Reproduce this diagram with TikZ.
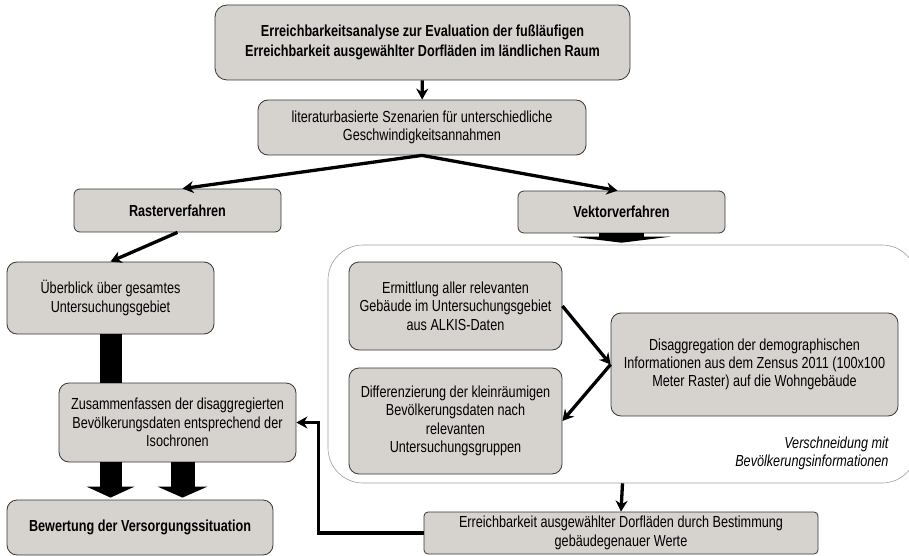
\documentclass[tikz,border=0pt]{standalone}
\usepackage{fontspec}
\setmainfont{Liberation Sans}[FakeStretch=0.79]
\usetikzlibrary{arrows.meta,positioning,calc}
\definecolor{boxgray}{RGB}{214,210,206}
\definecolor{rimgray}{RGB}{55,55,55}

\begin{document}
\begin{tikzpicture}[
  x=1pt, y=-1pt,
  >=Stealth,
  % one base box style, bold variant for the headings
  B/.style={rectangle, rounded corners=10pt, draw=rimgray, fill=boxgray,
            line width=0.8pt, align=center, inner sep=2pt,
            font=\fontsize{16}{18.3}\selectfont},
  H/.style={B, font=\bfseries\fontsize{16}{20}\selectfont},
  arr/.style={-{Stealth[length=11pt,width=12pt]}, line width=3.3pt},
  barr/.style={line width=#1},
]
\clip (0,0) rectangle (909,556);

%% ── Container (vector branch) ─────────────────────────────────────
\node[rectangle, rounded corners=35pt, draw=gray!75, line width=0.6pt,
      minimum width=589pt, minimum height=238pt] (cont) at (622.5,364) {};
\node[anchor=north east, align=right,
      font=\itshape\fontsize{16}{18.3}\selectfont] (versch) at (892,433)
      {Verschneidung mit\\Bevölkerungsinformationen};

%% ── Top ───────────────────────────────────────────────────────────
\node[H, minimum width=415pt, minimum height=75pt, rounded corners=12pt]
      (titel) at (422.5,42.5)
      {Erreichbarkeitsanalyse zur Evaluation der fußläufigen\\
       Erreichbarkeit ausgewählter Dorfläden im ländlichen Raum};
\node[B, minimum width=328pt, minimum height=55pt] (szen) at (422,127.5)
      {literaturbasierte Szenarien für unterschiedliche\\
       Geschwindigkeitsannahmen};

%% ── Two methods ───────────────────────────────────────────────────
\node[H, minimum width=207pt, minimum height=43pt, rounded corners=6pt]
      (raster) at (177.5,210.5) {Rasterverfahren};
\node[H, minimum width=207pt, minimum height=42pt, rounded corners=6pt]
      (vektor) at (621.5,212) {Vektorverfahren};

%% ── Raster branch ─────────────────────────────────────────────────
\node[B, minimum width=207pt, minimum height=72pt] (ueber) at (110.5,298)
      {Überblick über gesamtes\\Untersuchungsgebiet};
\node[B, minimum width=237pt, minimum height=79pt] (zusam) at (177.5,422.5)
      {Zusammenfassen der disaggregierten\\
       Bevölkerungsdaten entsprechend der\\Isochronen};
\node[H, minimum width=266pt, minimum height=55pt] (bewert) at (140,527.5)
      {Bewertung der Versorgungssituation};

%% ── Vector branch ─────────────────────────────────────────────────
\node[B, minimum width=213pt, minimum height=88pt] (ermitt) at (455.5,306)
      {Ermittlung aller relevanten\\Gebäude im Untersuchungsgebiet\\
       aus ALKIS-Daten};
\node[B, minimum width=213pt, minimum height=106pt] (diffz) at (455.5,421)
      {Differenzierung der kleinräumigen\\Bevölkerungsdaten nach\\
       relevanten\\Untersuchungsgruppen};
\node[B, minimum width=287pt, minimum height=103pt] (disagg) at (754.5,364.5)
      {Disaggregation der demographischen\\
       Informationen aus dem Zensus 2011 (100x100\\
       Meter Raster) auf die Wohngebäude};
\node[B, minimum width=394pt, minimum height=42pt, rounded corners=4pt]
      (erreich) at (621,533)
      {Erreichbarkeit ausgewählter Dorfläden durch Bestimmung\\
       gebäudegenauer Werte};

%% ── Line arrows ───────────────────────────────────────────────────
\draw[arr] (titel) -- (szen);
\draw[arr] (szen.south) -- ($(raster.north)+(5,0)$);
\draw[arr] (szen.south) -- ($(vektor.north)+(-4,0)$);
\draw[arr] (raster.south) -- (ueber.north);
\draw[arr] (ermitt.east) -- (disagg.west);
\draw[arr] (disagg.west) -- (diffz.east);
\draw[arr] (cont.south) -- (erreich.north);
\draw[arr] (erreich.west) -| ($(zusam.east)+(22,0)$) -- (zusam.east);

%% ── Block arrows ──────────────────────────────────────────────────
\coordinate (z2) at ($(zusam.south)+(5,0)$);
\draw[barr=45pt, -{Triangle[length=6pt,width=98pt,line width=0pt]},
      shorten >=2pt] (vektor.south) -- (vektor.south |- cont.north);
\draw[barr=22pt] (ueber.south) -- (ueber.south |- zusam.north);
\draw[barr=22pt, -{Triangle[length=11pt,width=48pt,line width=0pt]},
      shorten >=2pt] (ueber.south |- zusam.south) -- (ueber.south |- bewert.north);
\draw[barr=24pt, -{Triangle[length=11pt,width=50pt,line width=0pt]},
      shorten >=2pt] (z2) -- (z2 |- bewert.north);

\end{tikzpicture}
\end{document}
